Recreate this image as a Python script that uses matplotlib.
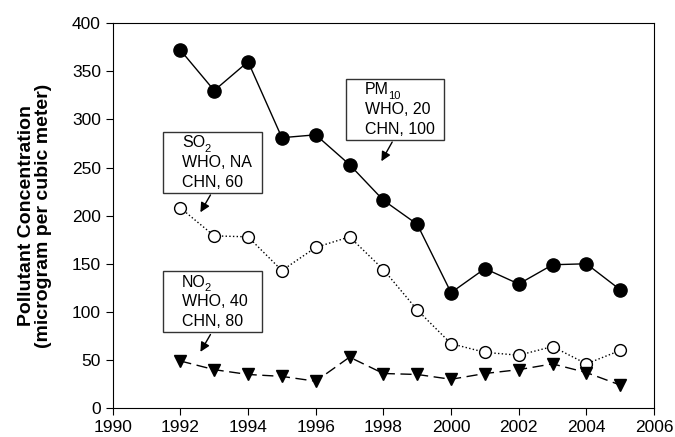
import matplotlib.pyplot as plt
from matplotlib.patches import Rectangle

plt.rcParams['font.family'] = ['Liberation Sans', 'DejaVu Sans']

years = [1992, 1993, 1994, 1995, 1996, 1997, 1998, 1999, 2000, 2001, 2002, 2003, 2004, 2005]
pm10 = [372, 330, 360, 281, 284, 253, 216, 191, 120, 145, 129, 149, 150, 123]
so2 = [208, 179, 178, 143, 167, 178, 144, 102, 67, 58, 55, 64, 46, 60]
no2 = [49, 40, 35, 33, 28, 53, 36, 35, 30, 36, 40, 46, 37, 24]

fig = plt.figure(figsize=(6.75, 4.37), dpi=100)
ax = fig.add_axes([0.167, 0.066, 0.802, 0.881])

ax.plot(years, pm10, '-', color='black', lw=1, marker='o', ms=9.5,
        mfc='black', mec='black', zorder=3)
ax.plot(years, so2, ':', color='black', lw=1, marker='o', ms=8.5,
        mfc='white', mec='black', mew=1, zorder=3)
ax.plot(years, no2, '--', color='black', lw=1, marker='v', ms=8.5,
        mfc='black', mec='black', dashes=(8, 4), zorder=3)

ax.set_xlim(1990, 2006)
ax.set_ylim(0, 400)
ax.set_xticks(range(1990, 2007, 2))
ax.set_yticks(range(0, 401, 50))
ax.tick_params(direction='out', length=5, labelsize=12.5, top=False, right=False)
ax.set_ylabel('Pollutant Concentration\n(microgram per cubic meter)',
              fontsize=14, fontweight='bold', labelpad=14, linespacing=1.0)


def label_box(x0, x1, y0, y1, name, sub, lines, tail, head):
    ax.add_patch(Rectangle((x0, y0), x1 - x0, y1 - y0, fill=True, fc='white',
                           ec='#333333', lw=1, zorder=4))
    h = y1 - y0
    tx = x0 + 0.55
    t = ax.text(tx, y1 - 0.18 * h, name, ha='left', va='center',
                fontsize=11.5, zorder=5)
    ax.annotate(sub, xy=(1, 0), xycoords=t, xytext=(-0.8, -2.5),
                textcoords='offset points', ha='left', va='bottom',
                fontsize=8, zorder=5)
    for i, line in enumerate(lines):
        ax.text(tx, y1 - (0.5 + 0.33 * i) * h, line, ha='left', va='center',
                fontsize=11.5, zorder=5)
    ax.annotate('', xy=head, xytext=tail,
                arrowprops=dict(arrowstyle='-|>', color='black', lw=1,
                                mutation_scale=14), zorder=5)


label_box(1996.9, 1999.8, 279, 342, 'PM', '10', ['WHO, 20', 'CHN, 100'],
          (1998.3, 279), (1997.9, 254))
label_box(1991.5, 1994.4, 224, 287, 'SO', '2', ['WHO, NA', 'CHN, 60'],
          (1992.93, 224), (1992.55, 201))
label_box(1991.5, 1994.4, 79, 142, 'NO', '2', ['WHO, 40', 'CHN, 80'],
          (1992.93, 79), (1992.55, 56))

fig.savefig('out.png', dpi=100)
